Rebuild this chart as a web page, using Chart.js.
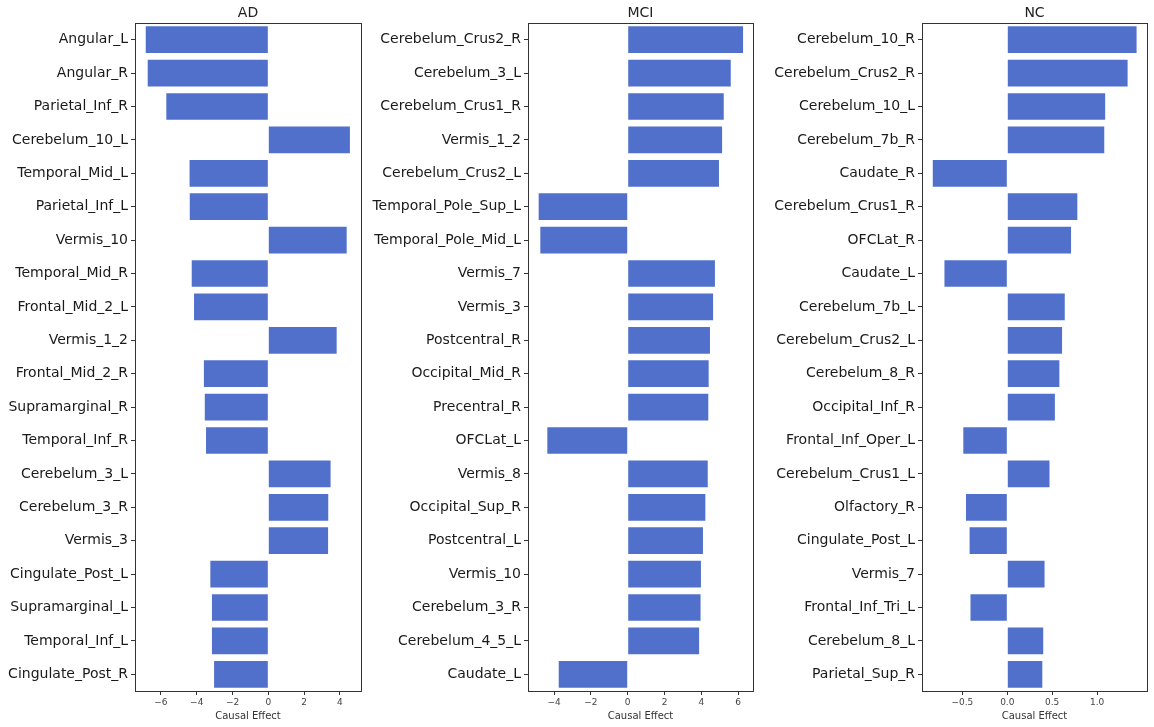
<!DOCTYPE html>
<html lang="en">
<head>
  <meta charset="UTF-8" />
  <title>Causal Effect by group</title>
  <script src="https://cdn.jsdelivr.net/npm/chart.js"></script>
  <style>
    body {
      margin: 0;
      background: #fff;
      font-family: 'DejaVu Sans', sans-serif;
    }
    .wrap {
      position: relative;
      width: 1154px;
      height: 727px;
    }
    .wrap canvas {
      position: absolute;
      top: 0;
    }
  </style>
</head>
<body>
  <div class="wrap">
    <canvas id="adChart" width="366" height="727" style="left:0px"></canvas>
    <canvas id="mciChart" width="394" height="727" style="left:366px"></canvas>
    <canvas id="ncChart" width="394" height="727" style="left:760px"></canvas>
  </div>

  <script>
    // data
    const adLabels = ["Angular_L", "Angular_R", "Parietal_Inf_R", "Cerebelum_10_L", "Temporal_Mid_L",
      "Parietal_Inf_L", "Vermis_10", "Temporal_Mid_R", "Frontal_Mid_2_L", "Vermis_1_2",
      "Frontal_Mid_2_R", "Supramarginal_R", "Temporal_Inf_R", "Cerebelum_3_L", "Cerebelum_3_R",
      "Vermis_3", "Cingulate_Post_L", "Supramarginal_L", "Temporal_Inf_L", "Cingulate_Post_R"];
    const adValues = [-6.85, -6.74, -5.70, 4.56, -4.40, -4.39, 4.38, -4.28, -4.15, 3.82,
      -3.60, -3.55, -3.48, 3.48, 3.35, 3.34, -3.24, -3.15, -3.15, -3.03];
    const adTicks = [-6, -4, -2, 0, 2, 4];

    const mciLabels = ["Cerebelum_Crus2_R", "Cerebelum_3_L", "Cerebelum_Crus1_R", "Vermis_1_2", "Cerebelum_Crus2_L",
      "Temporal_Pole_Sup_L", "Temporal_Pole_Mid_L", "Vermis_7", "Vermis_3", "Postcentral_R",
      "Occipital_Mid_R", "Precentral_R", "OFCLat_L", "Vermis_8", "Occipital_Sup_R",
      "Postcentral_L", "Vermis_10", "Cerebelum_3_R", "Cerebelum_4_5_L", "Caudate_L"];
    const mciValues = [6.27, 5.60, 5.22, 5.13, 4.96, -4.84, -4.75, 4.74, 4.64, 4.47,
      4.40, 4.38, -4.37, 4.35, 4.22, 4.09, 3.98, 3.96, 3.88, -3.75];
    const mciTicks = [-4, -2, 0, 2, 4, 6];

    const ncLabels = ["Cerebelum_10_R", "Cerebelum_Crus2_R", "Cerebelum_10_L", "Cerebelum_7b_R", "Caudate_R",
      "Cerebelum_Crus1_R", "OFCLat_R", "Caudate_L", "Cerebelum_7b_L", "Cerebelum_Crus2_L",
      "Cerebelum_8_R", "Occipital_Inf_R", "Frontal_Inf_Oper_L", "Cerebelum_Crus1_L", "Olfactory_R",
      "Cingulate_Post_L", "Vermis_7", "Frontal_Inf_Tri_L", "Cerebelum_8_L", "Parietal_Sup_R"];
    const ncValues = [1.44, 1.34, 1.09, 1.08, -0.83, 0.78, 0.71, -0.70, 0.64, 0.61,
      0.58, 0.53, -0.49, 0.47, -0.46, -0.42, 0.415, -0.41, 0.40, 0.39];
    const ncTicks = [-0.5, 0, 0.5, 1.0];

    const barColor = '#5170cc';
    const axisColor = '#333';

    // box around the plot area, like the matplotlib spines
    const frame = {
      id: 'frame',
      afterDraw(chart) {
        const a = chart.chartArea;
        const ctx = chart.ctx;
        ctx.save();
        ctx.strokeStyle = axisColor;
        ctx.lineWidth = 1;
        ctx.strokeRect(Math.round(a.left) + 0.5, Math.round(a.top) + 0.5,
          Math.round(a.right - a.left), Math.round(a.bottom - a.top));
        ctx.restore();
      }
    };

    function fmtTick(v, decimals) {
      const s = Math.abs(v).toFixed(decimals);
      return v < 0 ? '\u2212' + s : s;
    }

    function makePanel(id, title, labels, values, ticks, min, max, decimals, yWidth, padRight) {
      const ctx = document.getElementById(id).getContext('2d');
      return new Chart(ctx, {
        type: 'bar',
        data: {
          labels: labels,
          datasets: [{
            data: values,
            backgroundColor: barColor,
            borderWidth: 0,
            barPercentage: 0.8,
            categoryPercentage: 1.0
          }]
        },
        options: {
          indexAxis: 'y',
          responsive: false,
          animation: false,
          layout: { padding: { left: 0, right: padRight, top: 0, bottom: 0 } },
          plugins: {
            legend: { display: false },
            tooltip: { enabled: false }
          },
          scales: {
            x: {
              type: 'linear',
              position: 'bottom',
              min: min,
              max: max,
              afterBuildTicks: s => { s.ticks = ticks.map(v => ({ value: v })); },
              afterFit: s => { s.height = 36; },
              ticks: {
                font: { family: 'DejaVu Sans', size: 9 },
                color: '#444',
                padding: 2,
                maxRotation: 0,
                callback: v => fmtTick(v, decimals)
              },
              grid: { drawOnChartArea: false, tickLength: 4, color: axisColor },
              border: { display: false },
              title: {
                display: true,
                text: 'Causal Effect',
                font: { family: 'DejaVu Sans', size: 10 },
                color: '#333',
                padding: { top: 0, bottom: 5 }
              }
            },
            top: {
              type: 'linear',
              position: 'top',
              display: true,
              afterFit: s => { s.height = 23; },
              ticks: { display: false },
              grid: { display: false },
              border: { display: false },
              title: {
                display: true,
                text: title,
                font: { family: 'DejaVu Sans', size: 14 },
                color: '#222',
                padding: { top: 5, bottom: 0 }
              }
            },
            y: {
              offset: true,
              afterFit: s => { s.width = yWidth; },
              ticks: {
                font: { family: 'DejaVu Sans', size: 14 },
                color: '#1a1a1a',
                padding: 3,
                autoSkip: false
              },
              grid: { drawOnChartArea: false, tickLength: 4, color: axisColor, offset: false },
              border: { display: false }
            }
          }
        },
        plugins: [frame]
      });
    }

    makePanel('adChart', 'AD', adLabels, adValues, adTicks, -7.45, 5.18, 0, 135, 5);
    makePanel('mciChart', 'MCI', mciLabels, mciValues, mciTicks, -5.42, 6.81, 0, 162, 7);
    makePanel('ncChart', 'NC', ncLabels, ncValues, ncTicks, -0.95, 1.556, 1, 162, 7);
  </script>
</body>
</html>
